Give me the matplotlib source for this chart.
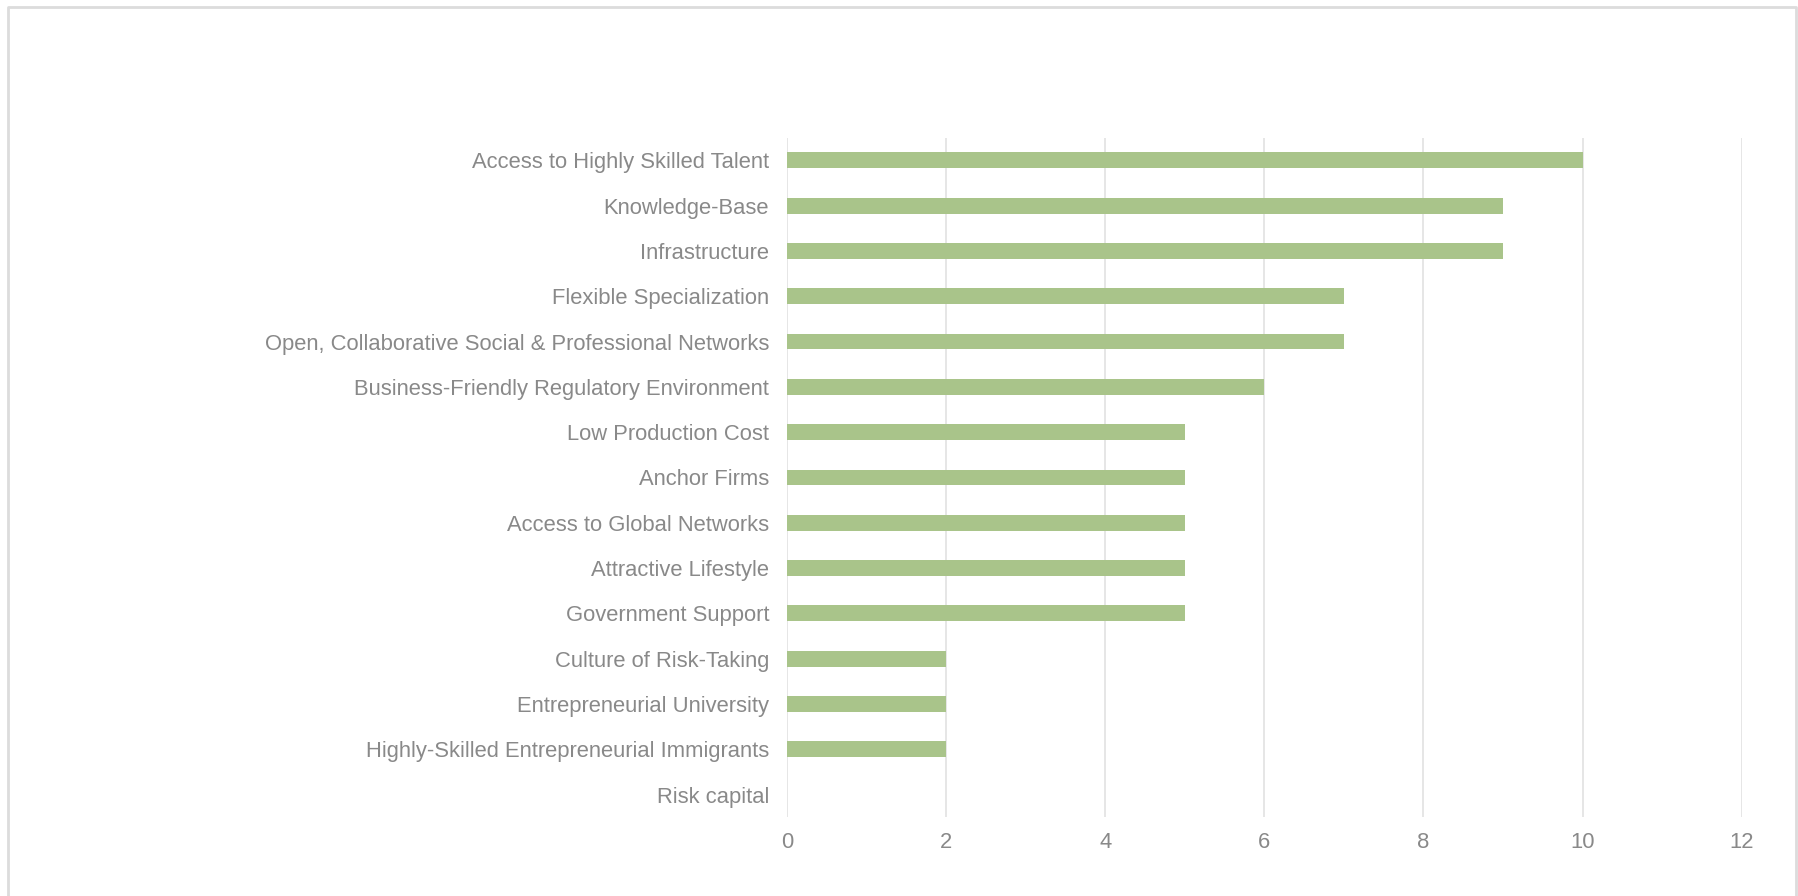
import matplotlib.pyplot as plt
from matplotlib.lines import Line2D

# factors and how often each was cited
factors = [
    "Access to Highly Skilled Talent",
    "Knowledge-Base",
    "Infrastructure",
    "Flexible Specialization",
    "Open, Collaborative Social & Professional Networks",
    "Business-Friendly Regulatory Environment",
    "Low Production Cost",
    "Anchor Firms",
    "Access to Global Networks",
    "Attractive Lifestyle",
    "Government Support",
    "Culture of Risk-Taking",
    "Entrepreneurial University",
    "Highly-Skilled Entrepreneurial Immigrants",
    "Risk capital",
]
counts = [10, 9, 9, 7, 7, 6, 5, 5, 5, 5, 5, 2, 2, 2, 0]

bar_color = "#a9c48a"
text_color = "#898989"
grid_color = "#e2e2e2"

plt.rcParams["font.family"] = ["Liberation Sans", "DejaVu Sans"]

fig = plt.figure(figsize=(17.99, 8.96), dpi=100)
ax = fig.add_axes([0.4375, 0.088, 0.5306, 0.7583])

ypos = list(range(len(factors)))
ax.barh(ypos, counts, height=0.35, color=bar_color, zorder=3)
ax.set_ylim(len(factors) - 0.5, -0.5)
ax.set_yticks(ypos)
ax.set_yticklabels(factors)

ax.set_xlim(0, 12)
ax.set_xticks(range(0, 13, 2))
ax.grid(axis="x", color=grid_color, linewidth=1.2, zorder=0)
ax.set_axisbelow(True)

for side in ["top", "right", "bottom", "left"]:
    ax.spines[side].set_visible(False)

ax.tick_params(axis="y", length=0, pad=13, labelsize=15.8, labelcolor=text_color)
ax.tick_params(axis="x", length=0, pad=11, labelsize=15.8, labelcolor=text_color)

# light frame around the chart area (open at the bottom)
W, H = 1799, 896
x0, x1 = 8.5 / W, 1796.5 / W
y0, y1 = 1 - 7.5 / H, 0.0
fig.add_artist(Line2D([x0, x0, x1, x1], [y1, y0, y0, y1],
                      transform=fig.transFigure, color="#dcdcdc", linewidth=2))

fig.savefig("out.png", dpi=100, facecolor="white")
